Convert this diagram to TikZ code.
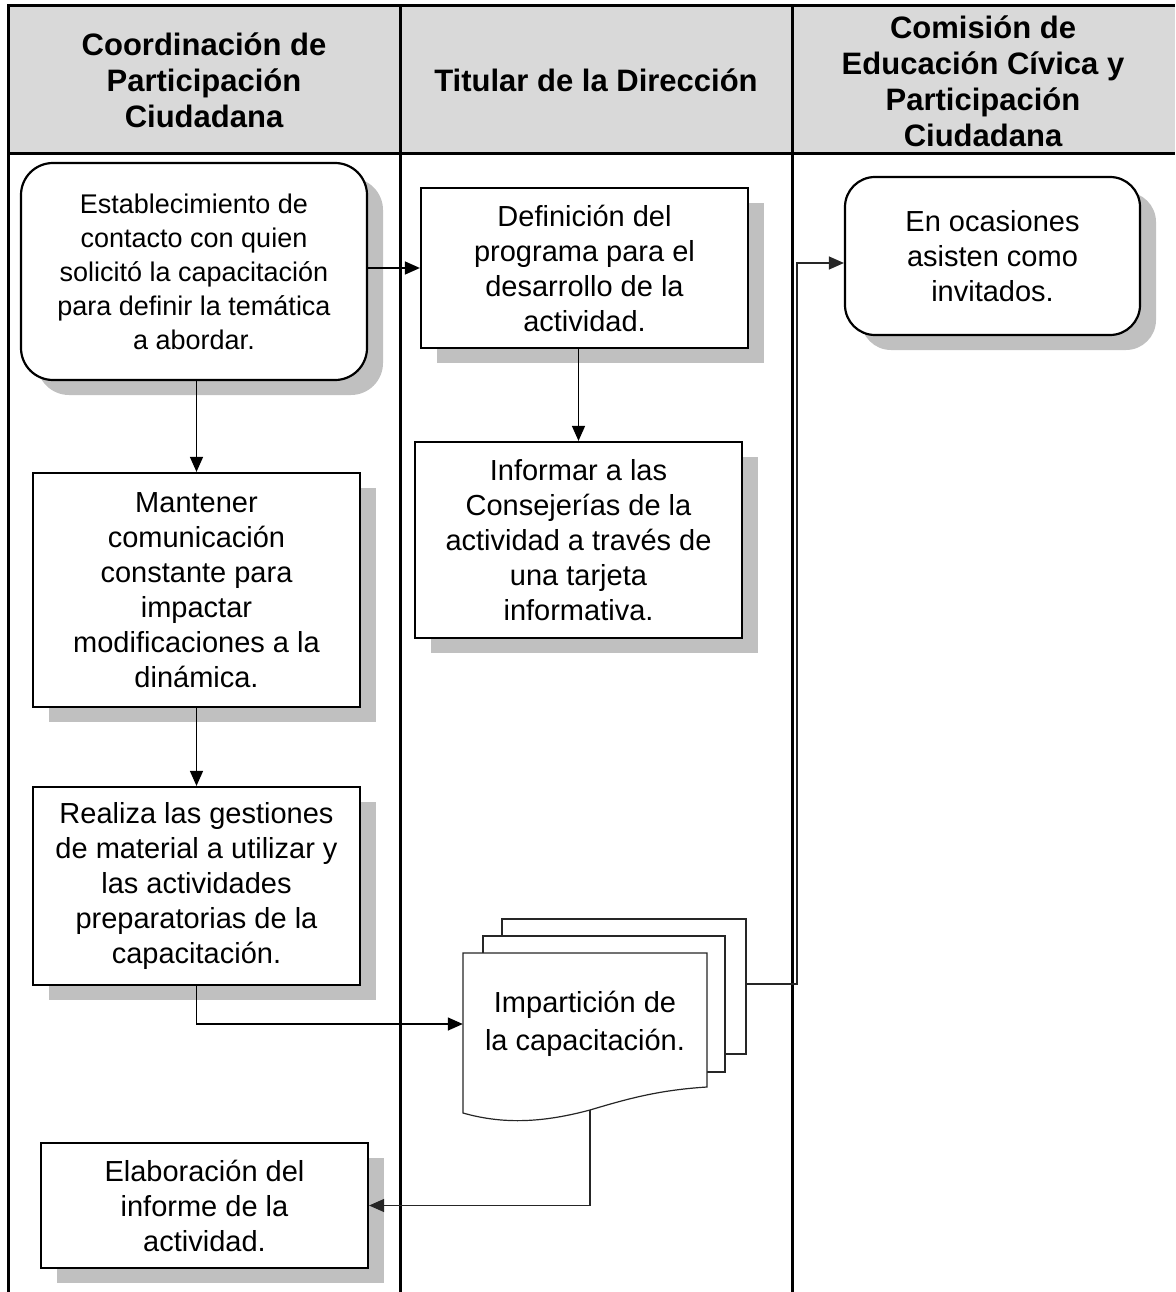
\documentclass[tikz,border=0pt]{standalone}
\usepackage{fontspec}
\setmainfont{Liberation Sans}
\usetikzlibrary{arrows.meta,shadows}

\begin{document}
\begin{tikzpicture}[x=1pt,y=-1pt,>={Triangle[length=15pt,width=13pt]},
  lane/.style={line width=3pt,draw=black},
  head/.style={font=\fontsize{31}{36}\selectfont\bfseries,align=center},
  task/.style={draw=black,line width=2.2pt,fill=white,align=center,inner sep=0pt,font=\fontsize{29}{35}\selectfont,
    drop shadow={shadow xshift=16pt,shadow yshift=-15pt,fill=shadowgray,opacity=1}},
  roundtask/.style={task,rounded corners=32pt},
  page/.style={draw=black!85,line width=1.2pt},
  flow/.style={->,line width=1.4pt,draw=black},
  docflow/.style={->,line width=1.2pt,draw=black!85}]
\definecolor{headgray}{RGB}{217,217,217}
\definecolor{shadowgray}{RGB}{192,192,192}
\useasboundingbox (0,0) rectangle (1175,1292);
\fill[headgray] (8,6) rectangle (1175,154);
\draw[lane] (1175,6) -- (8,6) -- (8,1292);
\draw[lane] (8,154) -- (1175,154);
\draw[lane] (400,6) -- (400,1292);
\draw[lane] (792,6) -- (792,1292);
\node[head] (coord) at (204,80) {Coordinación de\\Participación\\Ciudadana};
\node[head] (titular) at (596,80) {Titular de la Dirección};
\node[head] (comision) at (983,81) {Comisión de\\Educación Cívica y\\Participación\\Ciudadana};
\node[roundtask,minimum width=346pt,minimum height=217pt,font=\fontsize{27}{34}\selectfont] (contacto) at (194,271.5) {Establecimiento de\\contacto con quien\\solicitó la capacitación\\para definir la temática\\a abordar.};
\node[task,minimum width=327pt,minimum height=160pt] (definicion) at (584.5,268) {Definición del\\programa para el\\desarrollo de la\\actividad.};
\node[roundtask,rounded corners=30pt,minimum width=295pt,minimum height=158pt] (ocasiones) at (992.5,256) {En ocasiones\\asisten como\\invitados.};
\node[task,minimum width=327pt,minimum height=196pt] (informar) at (578.5,540) {Informar a las\\Consejerías de la\\actividad a través de\\una tarjeta\\informativa.};
\node[task,minimum width=327pt,minimum height=234pt] (mantener) at (196.5,590) {Mantener\\comunicación\\constante para\\impactar\\modificaciones a la\\dinámica.};
\node[task,minimum width=327pt,minimum height=198pt] (realiza) at (196.5,886) {Realiza las gestiones\\de material a utilizar y\\las actividades\\preparatorias de la\\capacitación.};
\node[task,minimum width=327pt,minimum height=125pt] (elaboracion) at (204.5,1205.5) {Elaboración del\\informe de la\\actividad.};
\draw[page] (502,936) -- (502,919) -- (746,919) -- (746,1054) -- (725,1054);
\draw[page] (483,953) -- (483,936) -- (725,936) -- (725,1072) -- (707,1072);
\draw[page,fill=white] (463,953) -- (707,953) -- (707,1087) .. controls (660,1090) and (630,1098) .. (590,1110) .. controls (545,1122) and (505,1125) .. (463,1113) -- cycle;
\node[minimum width=244pt,minimum height=138pt,inner sep=0pt,align=center,font=\fontsize{29}{38}\selectfont] (imparticion) at (585,1024) {Impartición de\\la capacitación.};
\coordinate (docout) at (590,1110);
\coordinate (docback) at (746,984);
\coordinate (riser) at (797,263);
\draw[flow] (definicion.west -| contacto.east) -- (definicion.west);
\draw[flow] (mantener.north |- contacto.south) -- (mantener.north);
\draw[flow] (mantener.south) -- (realiza.north);
\draw[flow] (informar.north |- definicion.south) -- (informar.north);
\draw[flow] (realiza.south) |- (imparticion.west);
\draw[docflow] (docout) |- (elaboracion.east);
\draw[docflow] (docback) -| (riser) -- (riser -| ocasiones.west);
\end{tikzpicture}
\end{document}
